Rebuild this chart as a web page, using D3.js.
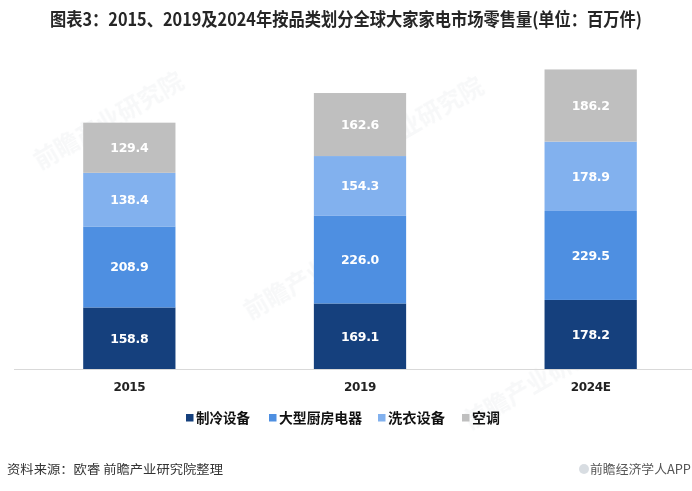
<!DOCTYPE html>
<html><head><meta charset="utf-8">
<script src="https://cdn.jsdelivr.net/npm/d3@7"></script>
<style>body{margin:0;background:#fff;}svg{display:block;font-family:"Noto Sans CJK SC","Microsoft YaHei",sans-serif;}</style>
</head><body><svg id="c" width="692" height="491"></svg>
<script>
const categories = ["2015", "2019", "2024E"];
const seriesNames = ["制冷设备", "大型厨房电器", "洗衣设备", "空调"];
const refrigeration = [158.8, 169.1, 178.2];
const kitchen = [208.9, 226.0, 229.5];
const laundry = [138.4, 154.3, 178.9];
const aircon = [129.4, 162.6, 186.2];
const colors = ["#15407D", "#4E8FE1", "#82B1EE", "#BFBFBF"];

const svg = d3.select("#c");
const data = categories.map((c, i) => ({cat: c, "制冷设备": refrigeration[i], "大型厨房电器": kitchen[i], "洗衣设备": laundry[i], "空调": aircon[i]}));
const stack = d3.stack().keys(seriesNames)(data);

const x = d3.scaleBand().domain(categories).range([14, 706]).paddingInner(0.6).paddingOuter(0.3);
const y = d3.scaleLinear().domain([0, 800]).range([369, 369 - 0.3876 * 800]);

// faint watermarks
const wm = svg.append("g").attr("fill", "#9aa3ad").attr("opacity", 0.08).attr("font-weight", "bold").attr("font-size", 24);
[[40, 170], [250, 320], [340, 175], [470, 430]].forEach(([wx, wy]) => {
  wm.append("text").attr("transform", `translate(${wx},${wy}) rotate(-30)`).text("前瞻产业研究院");
});

const g = svg.append("g");
stack.forEach((s, si) => {
  g.selectAll(null).data(s).enter().append("rect")
    .attr("x", d => x(d.data.cat)).attr("width", x.bandwidth())
    .attr("y", d => y(d[1])).attr("height", d => y(d[0]) - y(d[1]))
    .attr("fill", colors[si]);
  g.selectAll(null).data(s).enter().append("text")
    .attr("x", d => x(d.data.cat) + x.bandwidth() / 2)
    .attr("y", d => (y(d[0]) + y(d[1])) / 2 + 4.5)
    .attr("text-anchor", "middle").attr("fill", "#fff").attr("font-weight", "bold")
    .attr("font-size", 12.5).attr("font-family", "Verdana, 'DejaVu Sans', sans-serif")
    .style("letter-spacing", "-0.3px")
    .text(d => (d[1] - d[0]).toFixed(1));
});

// axis
const xAxis = svg.append("g").attr("transform", "translate(0,369)").call(d3.axisBottom(x).tickSize(0).tickPadding(13));
xAxis.select(".domain").attr("stroke", "#d9d9d9").attr("d", "M14,0.5H692");
xAxis.selectAll("text").attr("font-size", 12).attr("font-weight", "bold").attr("fill", "#222")
  .attr("font-family", "Verdana, 'DejaVu Sans', sans-serif").style("letter-spacing", "-0.4px");

// title
svg.append("text").attr("x", 50).attr("y", 26).attr("font-size", 18).attr("font-weight", "bold").attr("fill", "#262626")
  .attr("textLength", 592).attr("lengthAdjust", "spacingAndGlyphs")
  .text("图表3：2015、2019及2024年按品类划分全球大家家电市场零售量(单位：百万件)");

// legend
const legX = [186, 269, 378, 462];
const legW = [64, 93, 67, 38];
const leg = svg.append("g");
seriesNames.forEach((n, i) => {
  leg.append("rect").attr("x", legX[i]).attr("y", 414).attr("width", 7.5).attr("height", 7.5).attr("fill", colors[i]);
  leg.append("text").attr("x", legX[i] + 10).attr("y", 423).attr("font-size", 14).attr("font-weight", "bold").attr("fill", "#111")
    .attr("textLength", legW[i] - 10).attr("lengthAdjust", "spacingAndGlyphs").text(n);
});

// footer
svg.append("text").attr("x", 7).attr("y", 474).attr("font-size", 12.5).attr("fill", "#333")
  .attr("textLength", 216).attr("lengthAdjust", "spacingAndGlyphs").text("资料来源：欧睿 前瞻产业研究院整理");
svg.append("circle").attr("cx", 584).attr("cy", 469).attr("r", 5).attr("fill", "#c8ced6").attr("opacity", 0.7);
svg.append("text").attr("x", 590).attr("y", 474).attr("font-size", 12.5).attr("fill", "#555")
  .attr("textLength", 101).attr("lengthAdjust", "spacingAndGlyphs").text("前瞻经济学人APP");
</script></body></html>
